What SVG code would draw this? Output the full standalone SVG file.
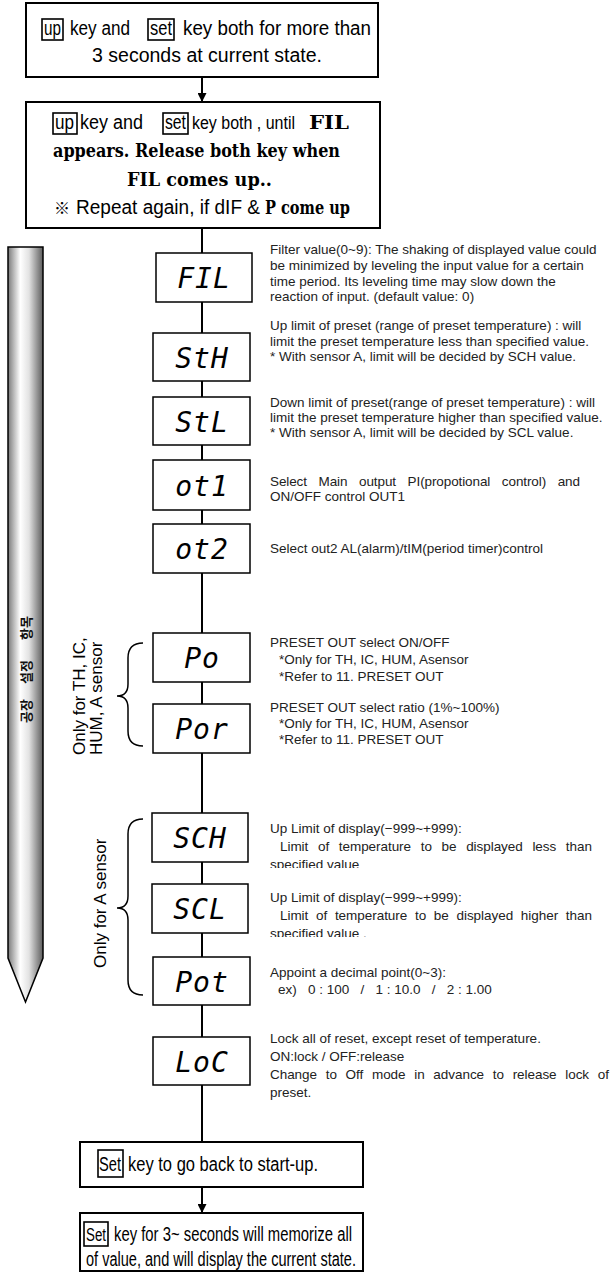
<svg xmlns="http://www.w3.org/2000/svg" width="615" height="1272" viewBox="0 0 615 1272">
<style>
.box{fill:#fff;stroke:#000;stroke-width:2}
.nb{fill:#fff;stroke:#000;stroke-width:1.5}
.key{fill:none;stroke:#000;stroke-width:1.6}
.seg{font-family:"DejaVu Sans Mono",monospace;font-style:oblique;font-size:28px;text-anchor:middle;letter-spacing:1px;fill:#000}
.desc{font-family:"Liberation Sans",Arial,sans-serif;font-size:13.5px;fill:#222}
.main{font-family:"Liberation Sans",Arial,sans-serif;font-size:20px;fill:#000}
.bold{font-family:"DejaVu Serif",serif;font-weight:bold;font-size:18px;fill:#000}
.side{font-family:"Liberation Sans",Arial,sans-serif;font-size:17px;fill:#000}
.kr{font-family:"Noto Sans CJK KR",sans-serif;font-weight:bold;font-size:13px;text-anchor:middle;dominant-baseline:central;fill:#111}
.conn{stroke:#000;stroke-width:2;fill:none}
.brace{stroke:#000;stroke-width:1.5;fill:none}
</style>
<defs>
<linearGradient id="cyl" x1="0" y1="0" x2="1" y2="0">
<stop offset="0" stop-color="#7a7a7a"/>
<stop offset="0.35" stop-color="#ffffff"/>
<stop offset="0.6" stop-color="#e2e2e2"/>
<stop offset="1" stop-color="#5c5c5c"/>
</linearGradient>
<marker id="ah" viewBox="0 0 10 10" refX="10" refY="5" markerWidth="9" markerHeight="9" markerUnits="userSpaceOnUse" orient="auto">
<path d="M0,0 L10,5 L0,10 z" fill="#000"/>
</marker>
<clipPath id="clipSCH"><rect x="260" y="850" width="200" height="18"/></clipPath>
<clipPath id="clipSCL"><rect x="260" y="920" width="200" height="17"/></clipPath>
</defs>

<g id="side-arrow">
<path d="M8,247 H43 V958 L25.5,1002 L8,958 Z" fill="url(#cyl)" stroke="#000" stroke-width="1.5"/>
<text class="kr" transform="translate(25,628) rotate(-90)">항목</text>
<text class="kr" transform="translate(25,672) rotate(-90)">설정</text>
<text class="kr" transform="translate(25,711) rotate(-90)">공장</text>
</g>

<g id="connectors">
<line class="conn" x1="202" y1="77" x2="202" y2="102" marker-end="url(#ah)"/>
<line class="conn" x1="202" y1="228" x2="202" y2="253"/>
<line class="conn" x1="202" y1="302" x2="202" y2="333"/>
<line class="conn" x1="202" y1="381" x2="202" y2="397"/>
<line class="conn" x1="202" y1="445" x2="202" y2="460"/>
<line class="conn" x1="202" y1="510" x2="202" y2="524"/>
<line class="conn" x1="202" y1="573" x2="202" y2="633"/>
<line class="conn" x1="202" y1="682" x2="202" y2="704"/>
<line class="conn" x1="202" y1="753" x2="202" y2="813"/>
<line class="conn" x1="202" y1="862" x2="202" y2="884"/>
<line class="conn" x1="202" y1="933" x2="202" y2="957"/>
<line class="conn" x1="202" y1="1005" x2="202" y2="1037"/>
<line class="conn" x1="202" y1="1085" x2="202" y2="1142"/>
<line class="conn" x1="202" y1="1187" x2="202" y2="1213" marker-end="url(#ah)"/>
</g>

<g id="start">
<rect class="box" x="26" y="3" width="352" height="74"/>
<rect class="key" x="42" y="19" width="21" height="21"/>
<text class="main" x="44" y="35" textLength="17" lengthAdjust="spacingAndGlyphs">up</text>
<text class="main" x="70" y="35" textLength="60" lengthAdjust="spacingAndGlyphs">key and</text>
<rect class="key" x="148" y="19" width="26" height="21"/>
<text class="main" x="150" y="35" textLength="22" lengthAdjust="spacingAndGlyphs">set</text>
<text class="main" x="183" y="35" textLength="188" lengthAdjust="spacingAndGlyphs">key both for more than</text>
<text class="main" x="92" y="62" textLength="230" lengthAdjust="spacingAndGlyphs">3 seconds at current state.</text>
</g>

<g id="enter">
<rect class="box" x="26" y="102" width="354" height="126"/>
<rect class="key" x="53" y="113" width="24" height="21"/>
<text class="main" x="55" y="129" textLength="19" lengthAdjust="spacingAndGlyphs">up</text>
<text class="main" x="80" y="129" textLength="63" lengthAdjust="spacingAndGlyphs">key and</text>
<rect class="key" x="163" y="113" width="25" height="21"/>
<text class="main" x="165" y="129" textLength="21" lengthAdjust="spacingAndGlyphs">set</text>
<text class="main" x="192" y="129" style="font-size:18px" textLength="103" lengthAdjust="spacingAndGlyphs">key both , until</text>
<text class="bold" x="309" y="129" textLength="40" lengthAdjust="spacingAndGlyphs">FIL</text>
<text class="bold" x="53" y="157" textLength="287" lengthAdjust="spacingAndGlyphs">appears. Release both key when</text>
<text class="bold" x="127" y="186" textLength="145" lengthAdjust="spacingAndGlyphs">FIL comes up..</text>
<text x="54" y="214" style="font-family:'Noto Sans CJK KR',sans-serif;font-size:16px;font-weight:bold">※</text>
<text class="main" x="76" y="214" textLength="184" lengthAdjust="spacingAndGlyphs">Repeat again, if dIF &amp;</text>
<text class="bold" x="265" y="214" textLength="85" lengthAdjust="spacingAndGlyphs">P come up</text>
</g>

<g id="FIL">
<rect class="nb" x="156" y="253" width="96" height="49"/>
<text class="seg" x="204" y="288">FIL</text>
<text class="desc" x="270" y="254">Filter value(0~9): The shaking of displayed value could</text>
<text class="desc" x="270" y="270">be minimized by leveling the input value for a certain</text>
<text class="desc" x="270" y="286">time period. Its leveling time may slow down the</text>
<text class="desc" x="270" y="301">reaction of input. (default value: 0)</text>
</g>

<g id="StH">
<rect class="nb" x="153" y="333" width="97" height="48"/>
<text class="seg" x="202" y="368">StH</text>
<text class="desc" x="270" y="330">Up limit of preset (range of preset temperature) : will</text>
<text class="desc" x="270" y="346">limit the preset temperature less than specified value.</text>
<text class="desc" x="270" y="361">* With sensor A, limit will be decided by SCH value.</text>
</g>

<g id="StL">
<rect class="nb" x="153" y="397" width="97" height="48"/>
<text class="seg" x="202" y="432">StL</text>
<text class="desc" x="270" y="407">Down limit of preset(range of preset temperature) : will</text>
<text class="desc" x="270" y="422">limit the preset temperature higher than specified value.</text>
<text class="desc" x="270" y="437">* With sensor A, limit will be decided by SCL value.</text>
</g>

<g id="ot1">
<rect class="nb" x="153" y="460" width="97" height="50"/>
<text class="seg" x="202" y="496">ot1</text>
<text class="desc" x="270" y="486" word-spacing="8" textLength="310" lengthAdjust="spacing">Select Main output PI(propotional control) and</text>
<text class="desc" x="270" y="501">ON/OFF control OUT1</text>
</g>

<g id="ot2">
<rect class="nb" x="153" y="524" width="97" height="49"/>
<text class="seg" x="202" y="559">ot2</text>
<text class="desc" x="270" y="553">Select out2 AL(alarm)/tIM(period timer)control</text>
</g>

<g id="Po">
<rect class="nb" x="153" y="633" width="97" height="49"/>
<text class="seg" x="202" y="668">Po</text>
<text class="desc" x="270" y="647">PRESET OUT select ON/OFF</text>
<text class="desc" x="279" y="664">*Only for TH, IC, HUM, Asensor</text>
<text class="desc" x="279" y="681">*Refer to 11. PRESET OUT</text>
</g>

<g id="Por">
<rect class="nb" x="153" y="704" width="97" height="49"/>
<text class="seg" x="202" y="739">Por</text>
<text class="desc" x="270" y="712">PRESET OUT select ratio (1%~100%)</text>
<text class="desc" x="279" y="728">*Only for TH, IC, HUM, Asensor</text>
<text class="desc" x="279" y="744">*Refer to 11. PRESET OUT</text>
</g>

<g id="SCH">
<rect class="nb" x="152" y="813" width="96" height="49"/>
<text class="seg" x="200" y="848">SCH</text>
<text class="desc" x="270" y="833">Up Limit of display(−999~+999):</text>
<text class="desc" x="280" y="851" word-spacing="6" textLength="312" lengthAdjust="spacing">Limit of temperature to be displayed less than</text>
<text class="desc" x="270" y="869" clip-path="url(#clipSCH)">specified value</text>
</g>

<g id="SCL">
<rect class="nb" x="152" y="884" width="96" height="49"/>
<text class="seg" x="200" y="919">SCL</text>
<text class="desc" x="270" y="902">Up Limit of display(−999~+999):</text>
<text class="desc" x="280" y="920" word-spacing="4" textLength="312" lengthAdjust="spacing">Limit of temperature to be displayed higher than</text>
<text class="desc" x="270" y="938" clip-path="url(#clipSCL)">specified value .</text>
</g>

<g id="Pot">
<rect class="nb" x="153" y="957" width="97" height="48"/>
<text class="seg" x="202" y="992">Pot</text>
<text class="desc" x="270" y="977">Appoint a decimal point(0~3):</text>
<text class="desc" x="278" y="994" xml:space="preserve">ex)   0 : 100   /   1 : 10.0   /   2 : 1.00</text>
</g>

<g id="LoC">
<rect class="nb" x="153" y="1037" width="97" height="48"/>
<text class="seg" x="202" y="1072">LoC</text>
<text class="desc" x="270" y="1043">Lock all of reset, except reset of temperature.</text>
<text class="desc" x="270" y="1061">ON:lock / OFF:release</text>
<text class="desc" x="270" y="1079" word-spacing="5" textLength="339" lengthAdjust="spacing">Change to Off mode in advance to release lock of</text>
<text class="desc" x="270" y="1097">preset.</text>
</g>

<g id="brace-po">
<path class="brace" d="M143,643 Q128,643 128,658 L128,684 Q128,696 117,696 Q128,696 128,708 L128,731 Q128,746 143,746"/>
<text class="side" transform="translate(85,755) rotate(-90)">Only for TH, IC,</text>
<text class="side" transform="translate(102,755) rotate(-90)">HUM, A sensor</text>
</g>

<g id="brace-a">
<path class="brace" d="M143,819 Q128,819 128,834 L128,896 Q128,908 117,908 Q128,908 128,920 L128,980 Q128,995 143,995"/>
<text class="side" transform="translate(106,968) rotate(-90)">Only for A sensor</text>
</g>

<g id="back">
<rect class="box" x="80" y="1142" width="283" height="45"/>
<rect class="key" x="98" y="1150" width="25" height="27"/>
<text class="main" x="99" y="1171" textLength="22" lengthAdjust="spacingAndGlyphs">Set</text>
<text class="main" x="128" y="1171" textLength="190" lengthAdjust="spacingAndGlyphs">key to go back to start-up.</text>
</g>

<g id="save">
<rect class="box" x="80" y="1213" width="283" height="58"/>
<rect class="key" x="84" y="1222" width="24" height="24"/>
<text class="main" x="86" y="1241" style="font-size:18px" textLength="20" lengthAdjust="spacingAndGlyphs">Set</text>
<text class="main" x="114" y="1241" textLength="238" lengthAdjust="spacingAndGlyphs">key for 3~ seconds will memorize all</text>
<text class="main" x="86" y="1266" textLength="270" lengthAdjust="spacingAndGlyphs">of value, and will display the current state.</text>
</g>
</svg>
